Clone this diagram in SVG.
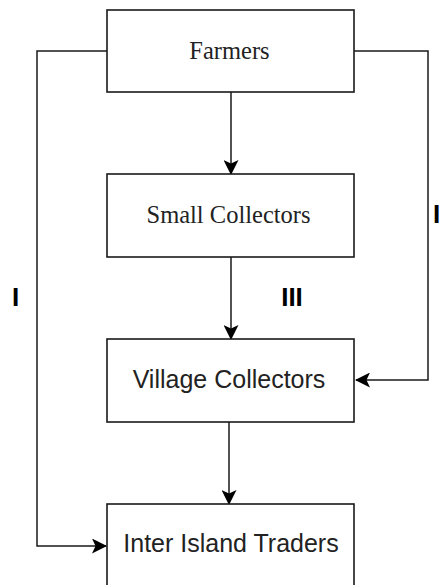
<svg xmlns="http://www.w3.org/2000/svg" width="440" height="585" viewBox="0 0 440 585">
<defs>
<style>
.box{fill:#fff;stroke:#1a1a1a;stroke-width:1.6}
.ser{font-family:"Liberation Serif","DejaVu Serif",serif;font-size:24.5px;fill:#222;text-anchor:middle}
.san{font-family:"Liberation Sans","DejaVu Sans",sans-serif;font-size:25px;fill:#222;text-anchor:middle}
.lbl{font-family:"Liberation Sans","DejaVu Sans",sans-serif;font-size:26px;font-weight:bold;fill:#000;text-anchor:middle}
.con{fill:none;stroke:#1a1a1a;stroke-width:1.5}
</style>
<marker id="ah" viewBox="0 0 15 15" refX="14" refY="7.5" markerWidth="15" markerHeight="15" markerUnits="userSpaceOnUse" orient="auto">
<path d="M0,0 L15,7.5 L0,15 L3.5,7.5 z" fill="#000"/>
</marker>
</defs>
<rect width="440" height="585" fill="#fff"/>
<g id="connectors">
<path class="con" d="M107,51 H37 V546 H106" marker-end="url(#ah)"/>
<path class="con" d="M354,51 H428 V380 H356" marker-end="url(#ah)"/>
<path class="con" d="M231,92 V174" marker-end="url(#ah)"/>
<path class="con" d="M231,257 V339" marker-end="url(#ah)"/>
<path class="con" d="M229,422 V504" marker-end="url(#ah)"/>
</g>
<g id="farmers">
<rect class="box" x="107" y="10" width="247" height="82"/>
<text class="ser" x="229.5" y="59">Farmers</text>
</g>
<g id="small-collectors">
<rect class="box" x="107" y="174" width="247" height="83"/>
<text class="ser" x="228.5" y="223">Small Collectors</text>
</g>
<g id="village-collectors">
<rect class="box" x="107" y="339" width="247" height="83"/>
<text class="san" x="229" y="388">Village Collectors</text>
</g>
<g id="inter-island-traders">
<rect class="box" x="107" y="504" width="247" height="90"/>
<text class="san" x="231" y="552">Inter Island Traders</text>
</g>
<g id="labels">
<text class="lbl" x="15.5" y="306">I</text>
<text class="lbl" x="292" y="306">III</text>
<text class="lbl" x="436.5" y="223">I</text>
</g>
</svg>
